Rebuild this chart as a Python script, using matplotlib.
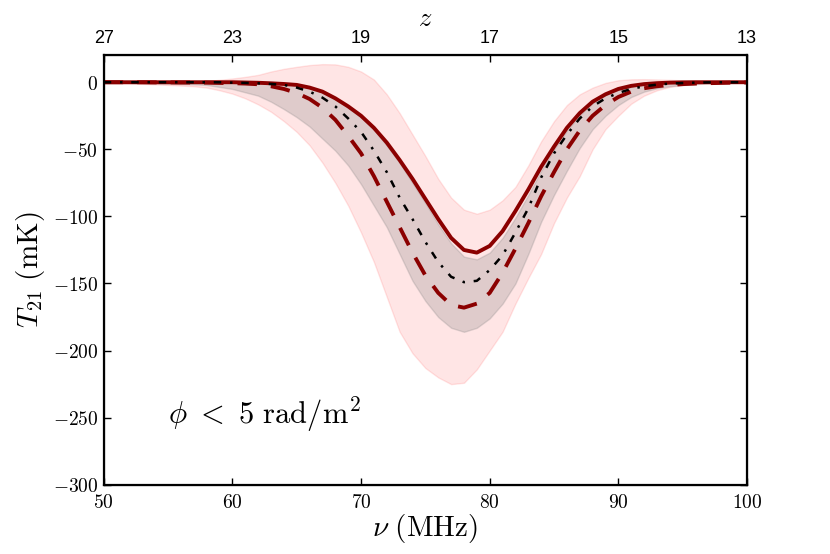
import numpy as np
import matplotlib
matplotlib.use('Agg')
import matplotlib.pyplot as plt
from matplotlib.ticker import FuncFormatter

plt.rcParams['mathtext.fontset'] = 'cm'
plt.rcParams['font.family'] = 'DejaVu Sans'

# frequency grid (MHz)
nu = np.arange(50, 101)

# solid curve
t_solid = [0, 0, 0, 0, 0, 0, 0, 0, 0, 0, 0,
           -0.2, -0.4, -0.8, -1.3, -2, -4, -7, -12, -18, -25,
           -34, -45, -58, -72, -87, -102, -116, -125, -127, -122,
           -111, -96, -80, -63, -48, -34, -23, -14.5, -9, -5,
           -2.7, -1.4, -0.7, -0.3, -0.1, 0, 0, 0, 0, 0]
# dash-dot curve
t_dashdot = [0, 0, 0, 0, 0, 0, 0, 0, 0, 0, -0.3,
             -0.5, -0.8, -1.3, -2, -4, -7, -11.5, -18, -27, -37,
             -51, -67, -86, -102, -119, -134, -145, -149, -148, -140,
             -129, -112, -94, -71, -53, -39, -27, -18, -12, -8,
             -5, -3, -1.8, -1, -0.6, -0.3, -0.1, 0, 0, 0]
# dashed curve
t_dashed = [0, 0, 0, 0, -0.1, -0.1, -0.2, -0.2, -0.3, -0.5, -0.7,
            -1, -1.5, -3, -5, -8, -12.5, -19, -28, -40, -53,
            -70, -89, -108, -127, -144, -157, -166, -168, -165, -157,
            -142, -124, -105, -85, -67, -50, -36, -25, -17, -11,
            -7, -4.5, -3, -2, -1.4, -1, -0.7, -0.5, -0.3, -0.2]
# inner (grey) band
grey_hi = [0, 0, 0, 0, 0, 0, 0, 0, 0, 0, 0,
           -0.2, -0.4, -0.8, -1.3, -2.2, -4.2, -7.5, -12.5, -19, -26,
           -35, -47, -60, -75, -90, -106, -120, -130, -132, -127,
           -116, -101, -84, -66, -50, -36, -24.5, -15.5, -9.5, -5.5,
           -3, -1.6, -0.8, -0.4, -0.2, 0, 0, 0, 0, 0]
grey_lo = [-0.3, -0.4, -0.5, -0.7, -0.9, -1.1, -1.3, -1.5, -2, -3.5, -5,
           -7.5, -10, -14.5, -20, -26, -33, -42, -51, -62, -76,
           -92, -108, -128, -148, -163, -175, -183, -186, -183, -176,
           -165, -150, -128, -104, -84, -66, -49, -35, -25, -17,
           -11, -7, -4.5, -3, -2, -1.3, -0.8, -0.5, -0.3, -0.2]
# outer (pink) band
pink_hi = [0, 0, 0, 0, 0, 0.1, 0.3, 0.6, 1, 1.8, 2.8,
           4, 5.5, 8, 10, 11.5, 12.8, 13.5, 13.3, 11.5, 8,
           2, -9, -23, -39, -55, -72, -86, -95, -98, -95,
           -88, -78, -62, -44, -29, -17, -9, -4, -0.5, 1.5,
           2.2, 2.3, 2.1, 1.8, 1.4, 1, 0.7, 0.4, 0.2, 0.1]
pink_lo = [-0.5, -0.7, -0.9, -1.2, -1.6, -2, -2.5, -3, -4, -6, -8.5,
           -12, -16.5, -22, -29, -37, -47, -60, -75, -92, -112,
           -134, -160, -186, -202, -213, -220, -225, -224, -214, -200,
           -186, -165, -146, -128, -105, -86, -70, -50, -35, -25,
           -16, -10, -6, -3.5, -2.2, -1.4, -0.9, -0.6, -0.4, -0.3]

# top axis: redshift labels at the frequency ticks
nu_ticks = [50, 60, 70, 80, 90, 100]
z_labels = ['27', '23', '19', '17', '15', '13']

fig, ax = plt.subplots(figsize=(8.3, 5.54), dpi=100)
fig.subplots_adjust(left=0.125, right=0.9, bottom=0.125, top=0.9)

ax.fill_between(nu, pink_lo, pink_hi, color='red', alpha=0.1, linewidth=1.0)
ax.fill_between(nu, grey_lo, grey_hi, color='gray', alpha=0.25, linewidth=1.0)
ax.plot(nu, t_solid, color='darkred', linewidth=2.8)
ax.plot(nu, t_dashed, color='darkred', linewidth=2.8, dashes=[5, 3.6])
ax.plot(nu, t_dashdot, color='black', linewidth=1.8, dashes=[3, 3.5, 1, 3.5])

ax.set_xlim(50, 100)
ax.set_ylim(-300, 20)
ax.set_xticks(nu_ticks)
ax.set_yticks(np.arange(-300, 1, 50))
fmt = FuncFormatter(lambda v, p: r'$%d$' % v)
ax.xaxis.set_major_formatter(fmt)
ax.yaxis.set_major_formatter(fmt)
ax.tick_params(axis='both', which='major', direction='in', length=5, width=1,
               labelsize=14, top=False, right=True, pad=6)
ax.tick_params(axis='y', pad=4)
for axis in ['bottom', 'left', 'right', 'top']:
    ax.spines[axis].set_linewidth(1.6)

ax.set_xlabel(r'$\nu\ \mathrm{(MHz)}$', fontsize=21, labelpad=0)
ax.set_ylabel(r'$T_{21}\ \mathrm{(mK)}$', fontsize=21, labelpad=4)
ax.text(55, -248, r'$\phi\ <\ 5\ \mathrm{rad/m^2}$', fontsize=22, va='center')

ax2 = ax.twiny()
ax2.set_xlim(ax.get_xlim())
ax2.set_xticks(nu_ticks)
ax2.set_xticklabels(z_labels, family='Liberation Sans')
ax2.tick_params(axis='x', direction='in', length=5, width=1, labelsize=13, pad=6)
ax2.set_xlabel(r'$z$', fontsize=19, labelpad=3)

plt.savefig('out.png', dpi=100)
